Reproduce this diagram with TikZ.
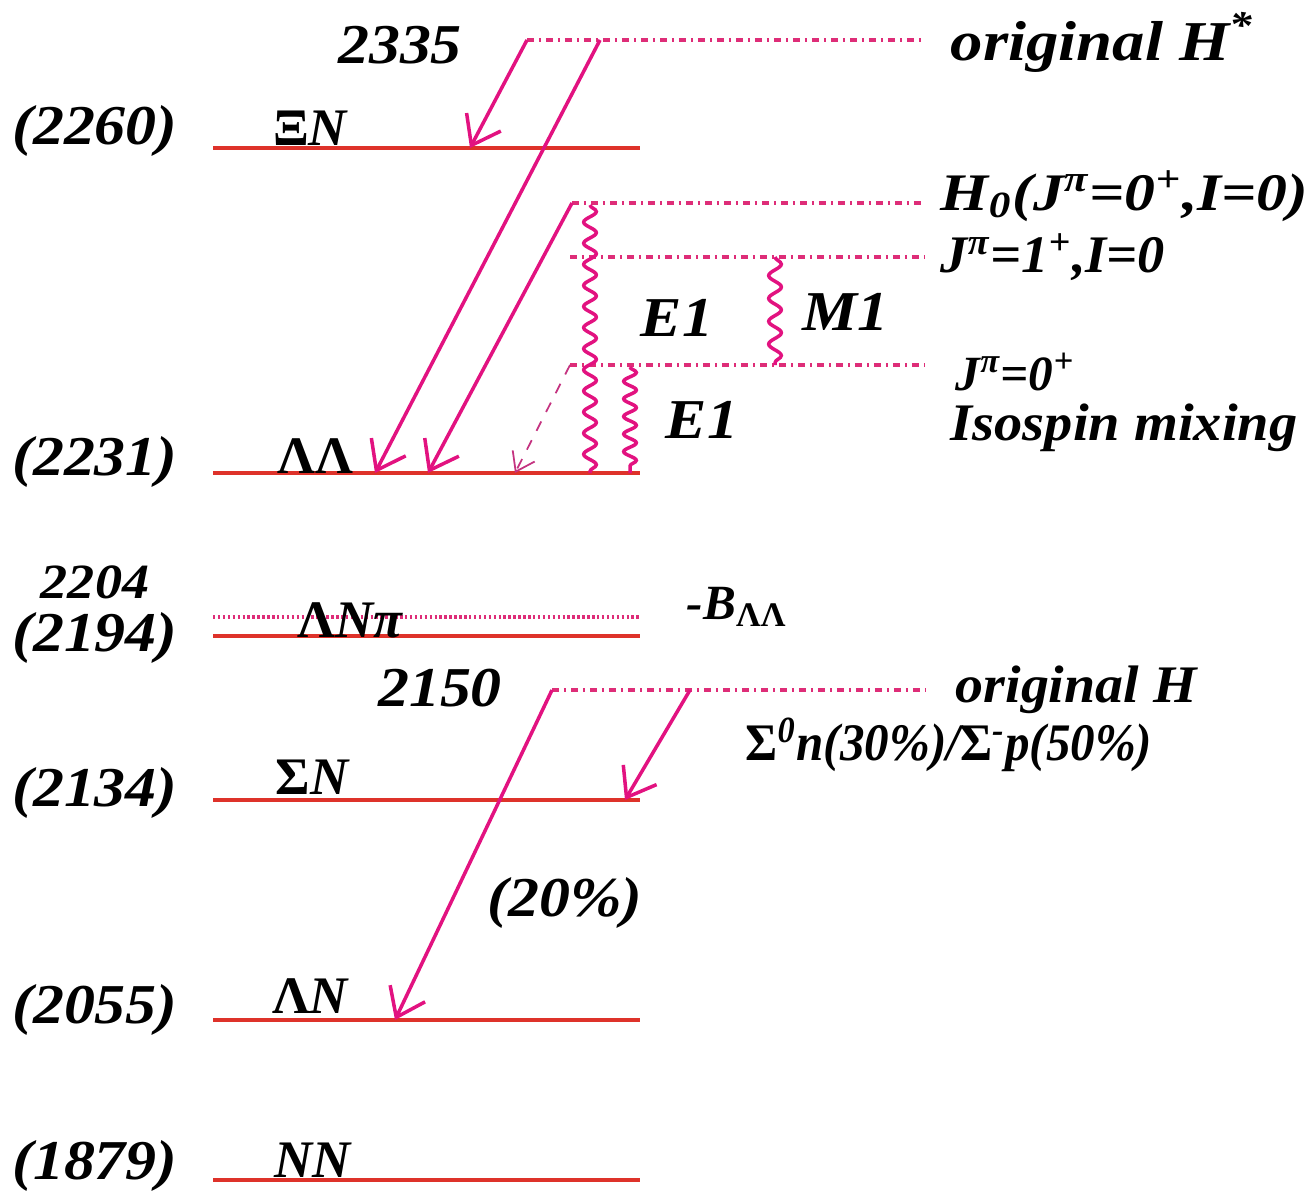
\documentclass[tikz,border=0pt]{standalone}
\usepackage{fontspec}
\setmainfont{Liberation Serif}
\usetikzlibrary{arrows.meta,decorations.pathmorphing}
\definecolor{lev}{RGB}{222,50,42}
\definecolor{arr}{RGB}{226,18,128}
\definecolor{dotc}{RGB}{222,45,120}
\newcommand\gU[1]{{\upshape #1}}
\begin{document}
\begin{tikzpicture}[x=0.01cm,y=-0.01cm,
  lbl/.style={font=\fontsize{16}{19}\selectfont\bfseries\itshape, inner sep=0pt, xscale=1.1},
  wlbl/.style={font=\fontsize{15}{18}\selectfont\bfseries\itshape, inner sep=0pt},
  levelline/.style={draw=lev, line width=1.4pt},
  stateline/.style={draw=dotc, line width=0.9pt, dash pattern=on 2pt off 1.4pt on 0.6pt off 1.4pt},
  fineline/.style={draw=dotc, line width=1.2pt, dash pattern=on 0.7pt off 0.7pt},
  decay/.style={draw=arr, line width=1pt, -{Straight Barb[length=7.5pt,width=11pt,line width=1pt]}},
  weakdecay/.style={draw=arr!70!gray, line width=0.5pt, dashed, -{Straight Barb[length=5pt,width=7pt]}},
  photon/.style={draw=arr, line width=1pt, decorate, decoration={snake, segment length=#1, amplitude=1.8pt}},
]
\useasboundingbox (0,0) rectangle (1307,1191);

% level lines
\foreach \nm/\yy in {xin/148, ll/473, lnpi/636, sn/800, ln/1020, nn/1180}{
  \coordinate (\nm L) at (213,\yy);
  \coordinate (\nm R) at (640,\yy);
  \draw[levelline] (\nm L) -- (\nm R);
}
\coordinate (bllL) at (213,617);
\coordinate (bllR) at (640,617);
\draw[fineline] (bllL) -- (bllR);

% left labels
\node[lbl] (e2260) at (95,131) {(2260)};
\node[lbl] (e2231) at (95,462) {(2231)};
\node[lbl, font=\fontsize{14}{16}\selectfont\bfseries\itshape] (e2204) at (95,582) {2204};
\node[lbl] (e2194) at (95,638) {(2194)};
\node[lbl] (e2134) at (95,793) {(2134)};
\node[lbl] (e2055) at (95,1010) {(2055)};
\node[lbl] (e1879) at (95,1166) {(1879)};

% channel labels
\node[wlbl] (cxin) at (310,128) {\gU{Ξ}N};
\node[wlbl] (cll) at (315,456) {\gU{ΛΛ}};
\node[wlbl] (clnpi) at (350,620) {\gU{Λ}Nπ};
\node[wlbl] (csn) at (312,777) {\gU{Σ}N};
\node[wlbl] (cln) at (310,996) {\gU{Λ}N};
\node[wlbl] (cnn) at (313,1160) {NN};

% original H*
\coordinate (hsA) at (527,40);
\coordinate (hsB) at (600,40);
\coordinate (hsR) at (925,40);
\draw[stateline] (hsA) -- (hsR);
\node[lbl] (t2335) at (400,45) {2335};
\node[wlbl, anchor=west, font=\fontsize{16}{19}\selectfont\bfseries\itshape, xscale=1.15] (thstar) at (950,42) {original H\textsuperscript{*}};
\coordinate (xiend) at (470,148);
\coordinate (llendA) at (375,473);
\draw[decay] (hsA) -- (xiend);
\draw[decay] (hsB) -- (llendA);

% H0 states
\coordinate (h0L) at (572,203);
\coordinate (h0R) at (925,203);
\coordinate (j1L) at (570,257);
\coordinate (j1R) at (925,257);
\coordinate (j0L) at (570,365);
\coordinate (j0R) at (925,365);
\draw[stateline] (h0L) -- (h0R);
\draw[stateline] (j1L) -- (j1R);
\draw[stateline] (j0L) -- (j0R);
\coordinate (llendB) at (428,473);
\coordinate (llendC) at (515,473);
\draw[decay] (h0L) -- (llendB);
\draw[weakdecay] (j0L) -- (llendC);

\coordinate (e1aT) at (590,205);
\coordinate (e1aB) at (590,473);
\coordinate (e1bT) at (630,367);
\coordinate (e1bB) at (630,473);
\coordinate (m1T) at (775,257);
\coordinate (m1B) at (775,365);
\draw[photon=6pt] (e1aT) -- (e1aB);
\draw[photon=5pt] (e1bT) -- (e1bB);
\draw[photon=6.5pt] (m1T) -- (m1B);

\node[lbl] (lE1a) at (677,318) {E1};
\node[lbl] (lM1) at (845,312) {M1};
\node[lbl] (lE1b) at (702,420) {E1};

\node[wlbl, anchor=west, xscale=1.17] (th0) at (940,196) {H\textsubscript{0}(J\textsuperscript{π}=0\textsuperscript{+},I=0)};
\node[wlbl, anchor=west, xscale=1.03] (tj1) at (940,257) {J\textsuperscript{π}=1\textsuperscript{+},I=0};
\node[wlbl, anchor=west, font=\fontsize{14}{16}\selectfont\bfseries\itshape] (tj0) at (955,372) {J\textsuperscript{π}=0\textsuperscript{+}};
\node[wlbl, anchor=west, xscale=1.07] (tiso) at (950,428) {Isospin mixing};

\node[wlbl, font=\fontsize{14}{16}\selectfont\bfseries\itshape] (tbll) at (737,607) {-B\textsubscript{\gU{ΛΛ}}};

% original H
\coordinate (hA) at (552,690);
\coordinate (hB) at (690,690);
\coordinate (hR) at (925,690);
\draw[stateline] (hA) -- (hR);
\node[lbl] (t2150) at (440,688) {2150};
\node[wlbl, anchor=west, xscale=1.06] (th) at (955,690) {original H};
\node[wlbl, anchor=west, xscale=0.93] (tsig) at (745,745) {\gU{Σ}\textsuperscript{0}n(30\%)/\gU{Σ}\textsuperscript{-}p(50\%)};
\coordinate (snend) at (625,800);
\coordinate (lnend) at (395,1020);
\draw[decay] (hB) -- (snend);
\draw[decay] (hA) -- (lnend);
\node[lbl] (t20) at (565,903) {(20\%)};
\end{tikzpicture}
\end{document}
